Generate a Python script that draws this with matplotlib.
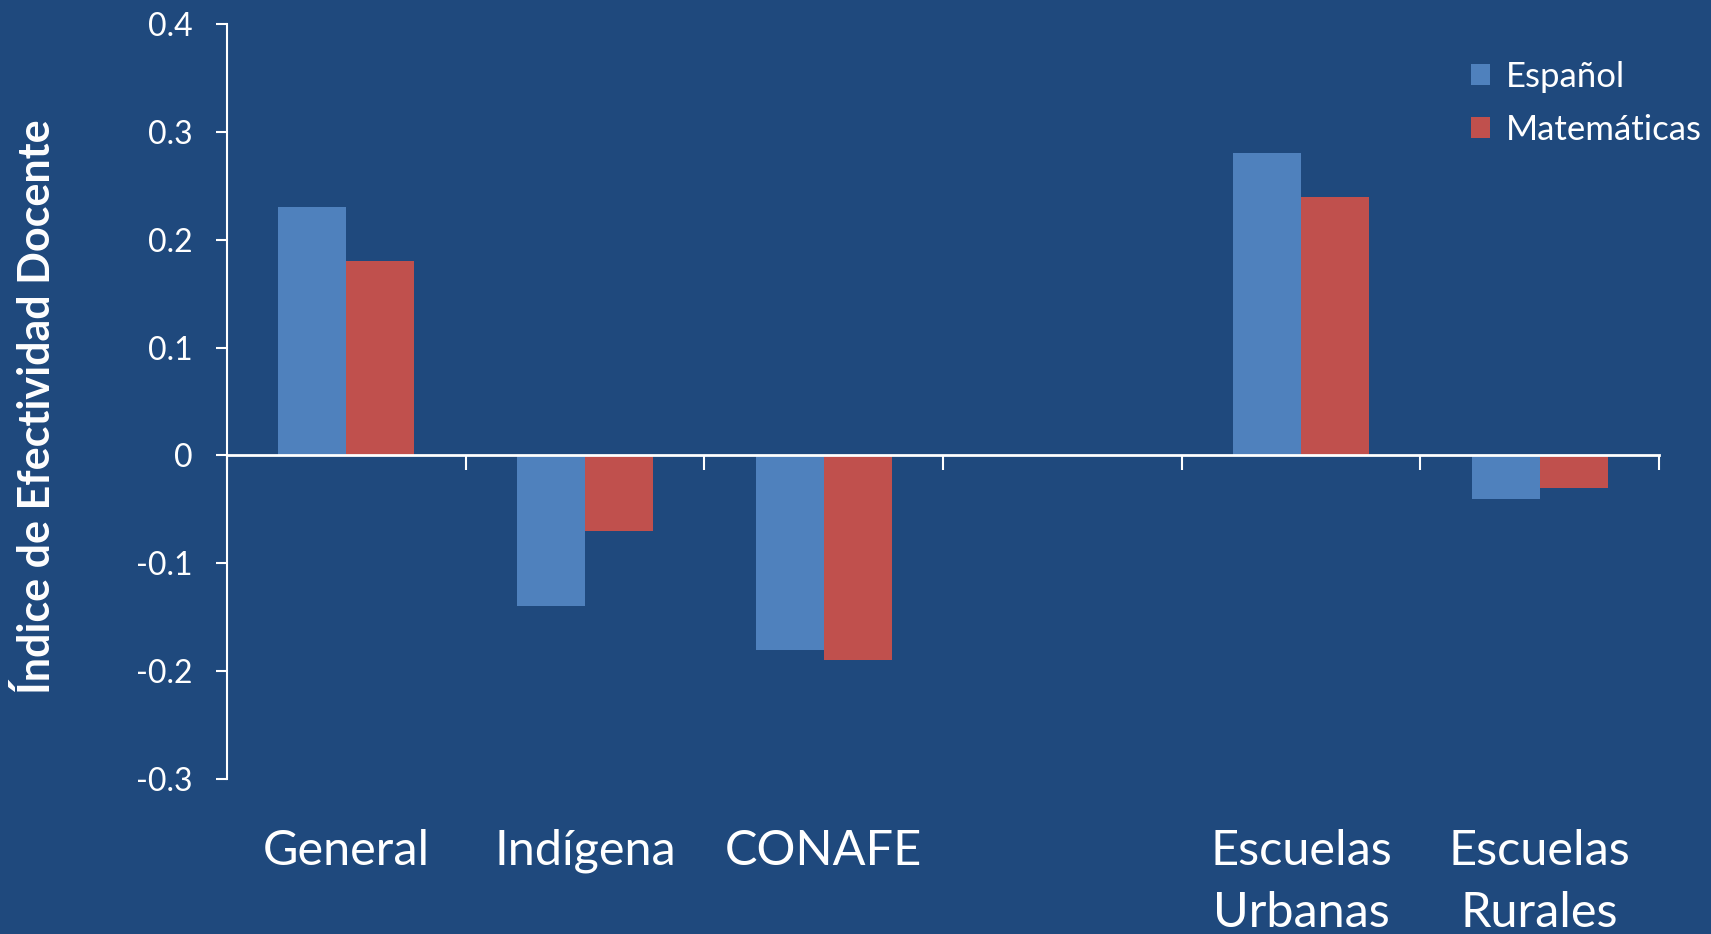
import numpy as np
import matplotlib.pyplot as plt
from matplotlib.transforms import blended_transform_factory

plt.rcParams['font.family'] = ['Lato', 'DejaVu Sans']

categorias = ['General', 'Indígena', 'CONAFE', '', 'Escuelas\nUrbanas', 'Escuelas\nRurales']
espanol = [0.23, -0.14, -0.18, 0.0, 0.28, -0.04]
matematicas = [0.18, -0.07, -0.19, 0.0, 0.24, -0.03]
yticks = [-0.3, -0.2, -0.1, 0, 0.1, 0.2, 0.3, 0.4]
yticklabels = ['-0.3', '-0.2', '-0.1', '0', '0.1', '0.2', '0.3', '0.4']

fondo = '#1F497D'
azul = '#4F81BD'
rojo = '#C0504D'

fig = plt.figure(figsize=(17.11, 9.34), dpi=100, facecolor=fondo)
ax = fig.add_axes([0.1327, 0.166, 0.8369, 0.8083])
ax.set_facecolor(fondo)

x = np.arange(len(categorias))
w = 0.285
ax.bar(x - w / 2, espanol, w, color=azul, label='Español')
ax.bar(x + w / 2, matematicas, w, color=rojo, label='Matemáticas')

ax.set_xlim(-0.5, len(categorias) - 0.5)
ax.set_ylim(-0.3, 0.4)

ax.spines['top'].set_visible(False)
ax.spines['right'].set_visible(False)
ax.spines['bottom'].set_position(('data', 0))
ax.spines['bottom'].set_color('white')
ax.spines['bottom'].set_linewidth(2)
ax.spines['left'].set_color('white')
ax.spines['left'].set_linewidth(1.5)

ax.set_xticks(np.arange(-0.5, len(categorias), 1.0))
ax.set_xticklabels([])
ax.tick_params(axis='x', direction='out', length=11, width=1.5, color='white')
ax.set_yticks(yticks)
ax.set_yticklabels(yticklabels)
ax.tick_params(axis='y', direction='out', length=8, width=1.5, color='white',
               labelcolor='white', labelsize=23, pad=17)

trans = blended_transform_factory(ax.transData, ax.transAxes)
for xi, lab in zip(x, categorias):
    ax.text(xi, -0.066, lab, transform=trans, ha='center', va='top',
            color='white', fontsize=35, linespacing=1.5)

ax.set_ylabel('Índice de Efectividad Docente', color='white', fontsize=31,
              fontweight='bold')
ax.yaxis.set_label_coords(-0.119, 0.4935)

leg = ax.legend(loc='upper left', bbox_to_anchor=(0.847, 0.993), frameon=False,
                fontsize=25, labelcolor='white', handlelength=0.55, handleheight=0.55,
                handletextpad=0.45, labelspacing=0.62)

fig.savefig('out.png', dpi=100, facecolor=fondo)
